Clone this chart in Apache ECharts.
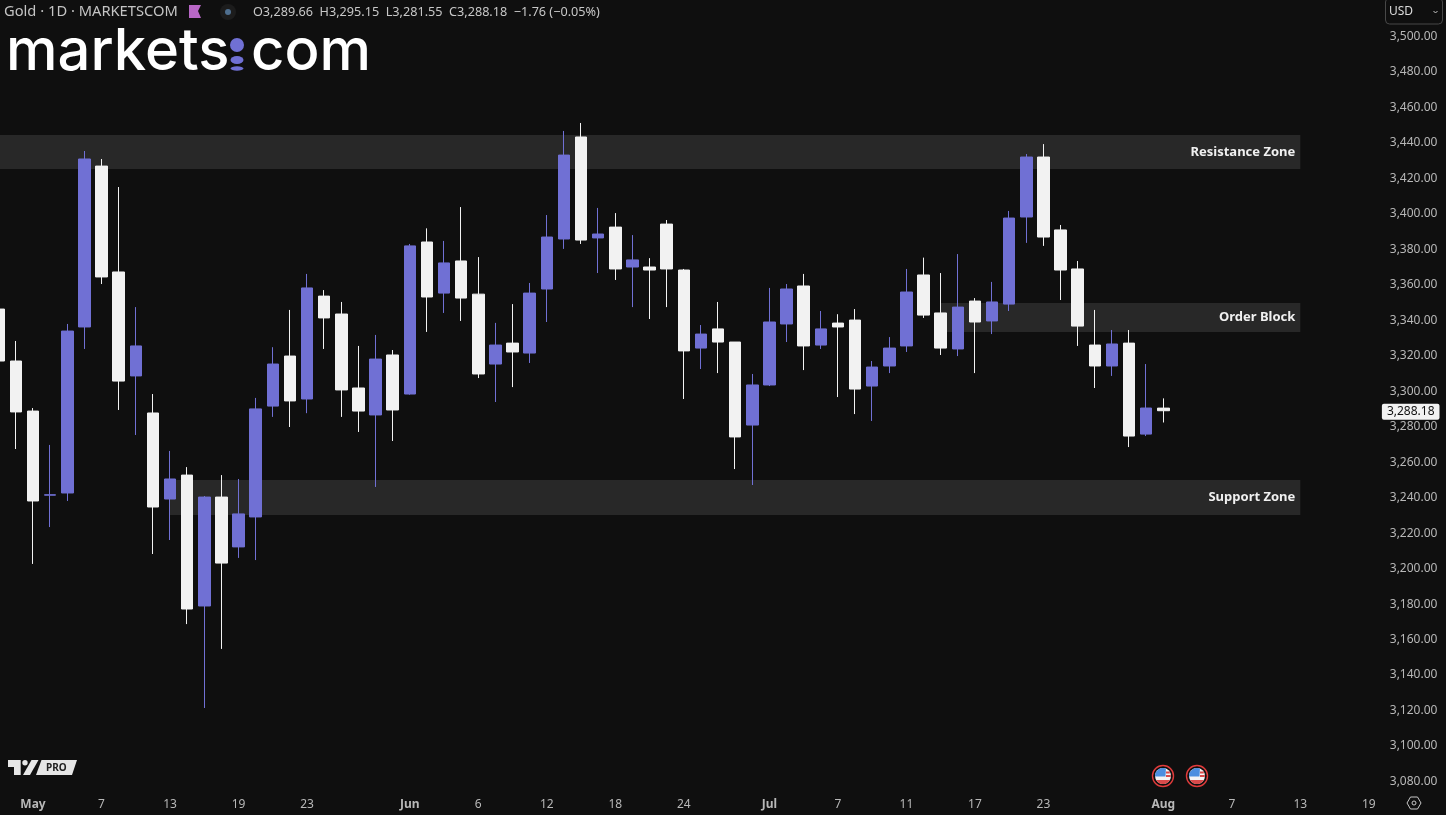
<!DOCTYPE html>
<html>
<head>
<meta charset="utf-8">
<style>html,body{margin:0;padding:0;background:#0f0f0f}#c{width:1446px;height:815px}</style>
<script src="https://cdn.jsdelivr.net/npm/echarts@6/dist/echarts.min.js"></script>
</head>
<body>
<div id="c"></div>
<script>
const dates = ["Apr 29","Apr 30","May 1","May 2","May 5","May 6","May 7","May 8","May 9","May 12","May 13","May 14","May 15","May 16","May 19","May 20","May 21","May 22","May 23","May 26","May 27","May 28","May 29","May 30","Jun 2","Jun 3","Jun 4","Jun 5","Jun 6","Jun 9","Jun 10","Jun 11","Jun 12","Jun 13","Jun 16","Jun 17","Jun 18","Jun 19","Jun 20","Jun 23","Jun 24","Jun 25","Jun 26","Jun 27","Jun 30","Jul 1","Jul 2","Jul 3","Jul 4","Jul 7","Jul 8","Jul 9","Jul 10","Jul 11","Jul 14","Jul 15","Jul 16","Jul 17","Jul 18","Jul 21","Jul 22","Jul 23","Jul 24","Jul 25","Jul 28","Jul 29","Jul 30","Jul 31","Aug 1","Aug 4","Aug 5","Aug 6","Aug 7","Aug 8","Aug 11","Aug 12","Aug 13","Aug 14","Aug 15","Aug 18","Aug 19"];
const tickLabels = {"May 1":"May","May 7":"7","May 13":"13","May 19":"19","May 23":"23","Jun 2":"Jun","Jun 6":"6","Jun 12":"12","Jun 18":"18","Jun 24":"24","Jul 1":"Jul","Jul 7":"7","Jul 11":"11","Jul 17":"17","Jul 23":"23","Aug 1":"Aug","Aug 7":"7","Aug 13":"13","Aug 19":"19"};
const opens = [3345.5,3316.2,3288.0,3240.6,3241.8,3335.4,3426.1,3366.4,3307.8,3286.9,3238.4,3251.9,3178.1,3239.5,3211.4,3228.3,3290.8,3319.0,3294.8,3352.8,3342.7,3301.0,3285.8,3319.6,3297.6,3383.3,3354.5,3372.6,3353.9,3314.5,3326.3,3320.7,3356.8,3385.0,3442.5,3385.6,3391.7,3369.2,3369.2,3393.4,3367.5,3323.5,3334.3,3326.9,3280.1,3302.7,3337.1,3358.5,3325.2,3337.6,3339.3,3302.1,3313.4,3324.7,3364.7,3343.3,3323.0,3350.0,3338.8,3348.3,3397.4,3431.2,3390.1,3368.1,3325.2,3313.4,3326.3,3275.0,3289.66];
const closes = [3316.2,3287.5,3237.3,3240.8,3333.1,3430.1,3363.6,3304.9,3324.7,3233.9,3249.7,3176.4,3239.5,3202.3,3230.0,3289.2,3314.5,3293.7,3357.4,3340.5,3299.9,3288.0,3317.3,3288.6,3381.1,3352.3,3371.5,3351.7,3308.9,3325.2,3321.3,3354.5,3386.1,3432.3,3384.4,3387.8,3368.1,3373.2,3367.5,3368.1,3321.9,3331.4,3326.9,3273.4,3302.7,3338.2,3356.8,3324.7,3334.3,3335.4,3300.4,3312.8,3323.5,3355.1,3342.1,3323.5,3346.6,3338.2,3349.5,3396.8,3431.2,3386.1,3367.5,3335.9,3313.4,3325.8,3273.9,3289.7,3288.18];
const lows = [3310.0,3266.6,3201.8,3222.6,3237.3,3323.0,3359.6,3288.6,3274.5,3207.4,3215.3,3167.9,3120.6,3153.9,3205.2,3204.0,3284.7,3279.0,3286.8,3323.0,3284.7,3276.2,3245.2,3271.1,3297.2,3332.6,3343.3,3338.8,3306.6,3293.1,3301.5,3315.1,3338.2,3379.4,3382.2,3365.8,3361.9,3346.6,3339.9,3346.6,3294.8,3311.7,3309.4,3255.3,3246.3,3302.1,3326.9,3311.1,3323.0,3295.9,3286.3,3282.4,3309.4,3321.3,3340.5,3319.6,3319.0,3309.4,3331.4,3344.4,3382.8,3381.1,3350.6,3324.7,3301.0,3307.8,3267.7,3273.9,3281.55];
const highs = [3352.0,3327.5,3289.7,3268.9,3337.1,3434.6,3430.1,3414.3,3346.6,3297.6,3265.5,3256.4,3240.1,3251.9,3249.7,3295.4,3324.0,3345.0,3365.3,3356.2,3349.5,3324.7,3330.9,3322.4,3382.2,3391.0,3383.9,3403.0,3374.8,3337.7,3348.3,3360.2,3398.5,3445.9,3450.4,3402.5,3399.6,3387.2,3374.2,3395.7,3368.1,3336.5,3349.5,3326.9,3308.9,3357.4,3359.6,3365.3,3344.4,3342.6,3345.5,3316.2,3329.7,3368.1,3374.5,3365.8,3376.5,3351.7,3360.8,3400.8,3432.9,3438.5,3392.9,3372.6,3345.0,3333.7,3333.7,3314.5,3295.15];
const zoneNames = ["Resistance Zone","Order Block","Support Zone"];
const zoneStarts = ["Apr 29","Jul 15","May 13"];
const zoneEnd = "Aug 13";
const zoneTops = [3443.6,3348.9,3249.1];
const zoneBottoms = [3424.5,3332.6,3229.4];
const yTickMin = 3080, yTickMax = 3500, yTickStep = 20;
const lastClose = closes[closes.length - 1];
const UP = "#7070d4", DOWN = "#f2f2f2", BG = "#0f0f0f", ZONE = "#282828", TXT = "#b8b8b8";
const FONT = "'Noto Sans', sans-serif";
const fmt = v => v.toLocaleString("en-US", {minimumFractionDigits: 2, maximumFractionDigits: 2});
const candles = opens.map((o, i) => [o, closes[i], lows[i], highs[i]]);

function arcPts(r, a0, a1, extra) {
  const p = [];
  for (let k = 0; k <= 14; k++) { const a = a0 + (a1 - a0) * k / 14; p.push([r * Math.cos(a), r * Math.sin(a)]); }
  return p.concat(extra || []);
}
function flag(cx, cy) {
  return {type: "group", x: cx, y: cy, children: [
    {type: "circle", shape: {r: 10.5}, style: {fill: BG, stroke: "#e03b3b", lineWidth: 1.4}},
    {type: "circle", shape: {r: 8}, style: {fill: "#f4f4f4"}},
    {type: "polygon", shape: {points: arcPts(8, Math.PI * 1.02, Math.PI * 1.62, [[2.5, 0.5], [-8, 0.5]])}, style: {fill: "#4c8fe0"}},
    {type: "rect", shape: {x: 3, y: -4.5, width: 3.8, height: 2}, style: {fill: "#d94a4a"}},
    {type: "rect", shape: {x: 3, y: -1, width: 4.8, height: 2}, style: {fill: "#d94a4a"}},
    {type: "polygon", shape: {points: arcPts(8, Math.PI * 0.17, Math.PI * 0.83)}, style: {fill: "#d94a4a"}}
  ]};
}

const graphic = [
  {type: "text", x: 4, y: 12, style: {text: "Gold · 1D · MARKETSCOM", font: "14.7px " + FONT, fill: "#c4c4c4", textVerticalAlign: "middle"}},
  {type: "polygon", shape: {points: [[189, 5], [201, 5], [198, 11], [201, 18], [189, 18]]}, style: {fill: "#b867c6"}},
  {type: "circle", shape: {cx: 228, cy: 12, r: 8}, style: {fill: "#1c1c1c"}},
  {type: "circle", shape: {cx: 228, cy: 12, r: 3}, style: {fill: "#4f6f8f"}},
  {type: "text", x: 253, y: 12, style: {text: "O3,289.66  H3,295.15  L3,281.55  C3,288.18  −1.76 (−0.05%)", font: "12.65px " + FONT, fill: "#c8c8c8", textVerticalAlign: "middle"}},
  {type: "text", x: 6, y: 53, style: {text: "markets", font: "500 58px Inter, sans-serif", fill: "#ffffff", textVerticalAlign: "middle"}},
  {type: "text", x: 251, y: 53, style: {text: "com", font: "500 58px Inter, sans-serif", fill: "#ffffff", textVerticalAlign: "middle"}},
  {type: "circle", shape: {cx: 237, cy: 45, r: 7}, style: {fill: UP}},
  {type: "circle", x: 237, y: 60, scaleY: 0.62, shape: {r: 6.5}, style: {fill: UP}},
  {type: "circle", x: 237, y: 68.5, scaleY: 0.35, shape: {r: 6.5}, style: {fill: UP}},
  {type: "rect", shape: {x: 1385.5, y: -2, width: 57, height: 26, r: 4}, style: {fill: "none", stroke: "#484848", lineWidth: 1}},
  {type: "text", x: 1389, y: 12, style: {text: "USD", font: "12px " + FONT, fill: "#dcdcdc", textVerticalAlign: "middle"}},
  {type: "polyline", shape: {points: [[1433.5, 11], [1435.5, 13], [1437.5, 11]]}, style: {fill: "none", stroke: "#c8c8c8", lineWidth: 1}},
  {type: "polygon", shape: {points: [[8, 760], [20.7, 760], [20.7, 775], [14, 775], [14, 767], [8, 767]]}, style: {fill: "#e6e6e6"}},
  {type: "circle", shape: {cx: 25, cy: 762.7, r: 2.7}, style: {fill: "#e6e6e6"}},
  {type: "polygon", shape: {points: [[31.5, 760], [38.5, 760], [30, 775], [23, 775]]}, style: {fill: "#e6e6e6"}},
  {type: "polygon", shape: {points: [[41.5, 760], [77, 760], [72, 775], [36, 775]]}, style: {fill: "#e6e6e6"}},
  {type: "text", x: 46, y: 767.7, style: {text: "PRO", font: "bold 10px " + FONT, fill: "#222222", textVerticalAlign: "middle"}},
  flag(1163, 776), flag(1197, 776),
  {type: "polygon", shape: {points: [[1407, 803], [1410.5, 797], [1417.5, 797], [1421, 803], [1417.5, 809], [1410.5, 809]]}, style: {fill: "none", stroke: "#c8c8c8", lineWidth: 1}},
  {type: "circle", shape: {cx: 1414, cy: 803, r: 2}, style: {fill: "none", stroke: "#c8c8c8", lineWidth: 1}}
];

const chart = echarts.init(document.getElementById("c"), null, {renderer: "canvas"});
chart.setOption({
  animation: false,
  backgroundColor: BG,
  textStyle: {fontFamily: FONT},
  grid: {left: -9.81, top: 35, width: 1387.2, height: 745, containLabel: false, outerBoundsMode: "none"},
  xAxis: {
    type: "category",
    data: dates,
    boundaryGap: true,
    axisLine: {show: false},
    axisTick: {show: false},
    splitLine: {show: false},
    axisLabel: {
      margin: 19,
      color: TXT,
      fontSize: 12,
      hideOverlap: false,
      interval: (i, v) => v in tickLabels,
      formatter: v => {
        const t = tickLabels[v] || "";
        return /[A-Za-z]/.test(t) ? "{m|" + t + "}" : t;
      },
      rich: {m: {color: TXT, fontSize: 12, fontWeight: "bold", fontFamily: FONT}}
    }
  },
  yAxis: {
    type: "value",
    position: "right",
    min: yTickMin,
    max: yTickMax,
    interval: yTickStep,
    scale: true,
    axisLine: {show: false},
    axisTick: {show: false},
    splitLine: {show: false},
    axisLabel: {
      margin: 60, align: "right", color: TXT, fontSize: 12,
      formatter: v => "{a|" + fmt(v) + "}",
      rich: {a: {color: TXT, fontSize: 12, fontFamily: FONT, lineHeight: 14, padding: [3, 0, 0, 0]}}
    }
  },
  graphic: graphic,
  series: [{
    type: "candlestick",
    data: candles,
    barWidth: 12,
    itemStyle: {color: UP, color0: DOWN, borderColor: UP, borderColor0: DOWN, borderWidth: 1},
    markArea: {
      silent: true,
      itemStyle: {color: ZONE},
      data: zoneNames.map((n, i) => [
        {name: n, coord: [zoneStarts[i], zoneTops[i]],
         label: {show: true, position: "insideRight", distance: 5, color: "#f0f0f0", fontSize: 13, fontWeight: "bold", fontFamily: FONT, formatter: n}},
        {coord: [zoneEnd, zoneBottoms[i]]}
      ])
    },
    markLine: {
      silent: true,
      symbol: "none",
      lineStyle: {color: "rgba(0,0,0,0)", width: 0},
      label: {show: true, position: "end", distance: 4.5, offset: [0, 1], formatter: fmt(lastClose), color: "#111111", backgroundColor: "#f2f2f2", padding: [2, 5, 2, 5], borderRadius: 2, fontSize: 12, fontFamily: FONT},
      data: [{yAxis: lastClose}]
    }
  }]
});
</script>
</body>
</html>
